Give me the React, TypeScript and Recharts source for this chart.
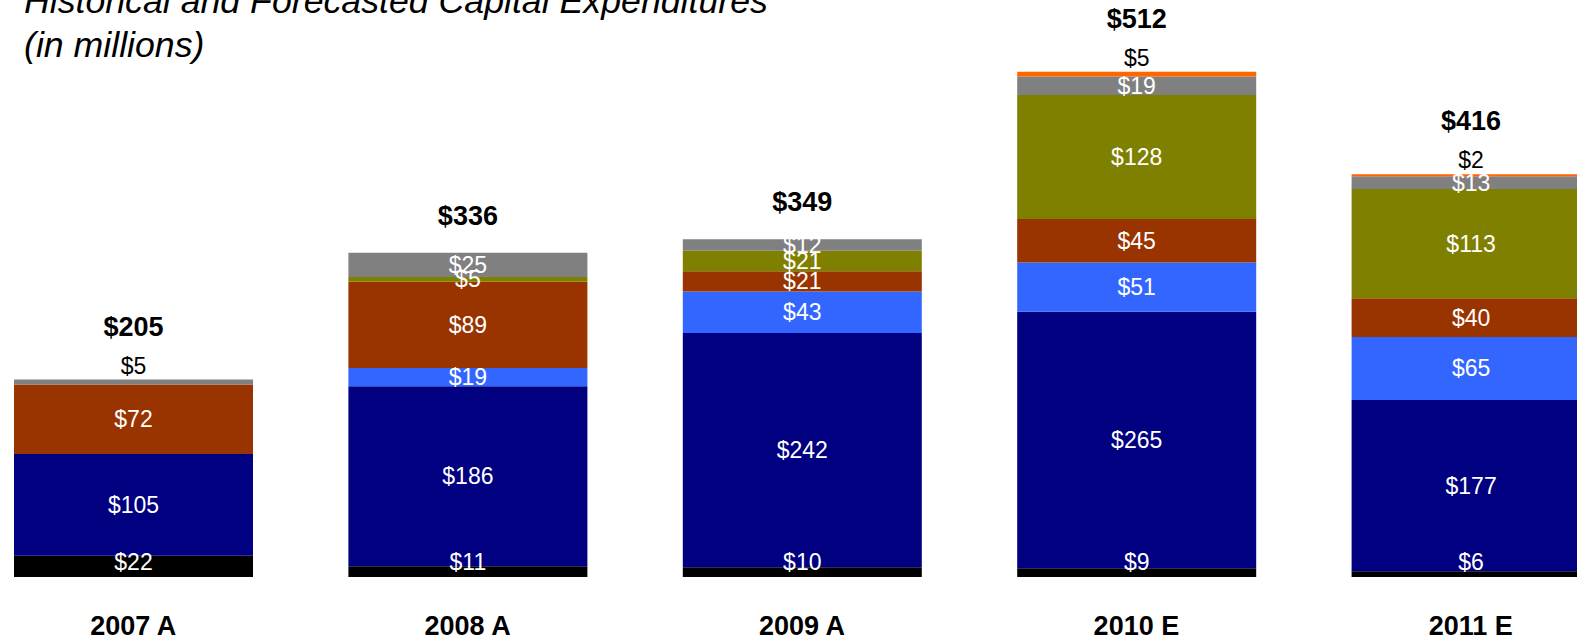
import React from 'react';
import { BarChart, Bar, XAxis, YAxis, LabelList } from 'recharts';

const categories = ['2007 A', '2008 A', '2009 A', '2010 E', '2011 E'];
const totals = [205, 336, 349, 512, 416];

// stacked segments, bottom to top
const blackSeg = [22, 11, 10, 9, 6];
const navySeg = [105, 186, 242, 265, 177];
const blueSeg = [0, 19, 43, 51, 65];
const rustSeg = [72, 89, 21, 45, 40];
const oliveSeg = [0, 5, 21, 128, 113];
const graySeg = [5, 25, 12, 19, 13];
const orangeSeg = [0, 0, 0, 5, 2];

const series = [
  { key: 's1', values: blackSeg, color: '#000000' },
  { key: 's2', values: navySeg, color: '#000080' },
  { key: 's3', values: blueSeg, color: '#3366FF' },
  { key: 's4', values: rustSeg, color: '#993300' },
  { key: 's5', values: oliveSeg, color: '#808000' },
  { key: 's6', values: graySeg, color: '#808080' },
  { key: 's7', values: orangeSeg, color: '#FF6600' },
];

const data = categories.map((cat, i) => {
  const row: Record<string, string | number> = { cat };
  series.forEach((s) => {
    row[s.key] = s.values[i];
  });
  return row;
});

const FONT = '"Liberation Sans", Arial, Helvetica, sans-serif';
const PLOT_BOTTOM = 577;

// index of the highest non-empty segment in each column
const topIndex = (i: number) => {
  let top = 0;
  series.forEach((s, k) => {
    if (s.values[i] > 0) top = k;
  });
  return top;
};

const smallTop = (i: number) => series[topIndex(i)].values[i] < 10;

// labels get the category as value, so empty segments skipped by recharts don't shift indices
const segLabel = (k: number) => (props: any) => {
  const { x, y, width, height, value } = props;
  const i = categories.indexOf(value);
  const v = series[k].values[i];
  if (i < 0 || !v) return null;
  const cx = x + width / 2;
  const small = k === topIndex(i) && v < 10;
  const cy = small ? y - 14 : Math.min(y + height / 2, PLOT_BOTTOM - 15);
  return (
    <g>
      <text x={cx} y={cy} dy={8} textAnchor="middle" fontSize={23} fontFamily={FONT} fill={small ? '#000' : '#fff'}>
        ${v}
      </text>
      {k === topIndex(i) && (
        <text
          x={cx}
          y={y - 38 - (smallTop(i) ? 16 : 0)}
          dy={10}
          textAnchor="middle"
          fontSize={27}
          fontWeight="bold"
          fontFamily={FONT}
          fill="#000"
        >
          ${totals[i]}
        </text>
      )}
    </g>
  );
};

const CatTick = (props: any) => {
  const { x, y, payload } = props;
  return (
    <text x={x} y={y} dy={50} textAnchor="middle" fontSize={27} fontWeight="bold" fontFamily={FONT} fill="#000">
      {payload.value}
    </text>
  );
};

export default function App() {
  return (
    <div style={{ position: 'fixed', left: 0, top: 0, width: 1577, height: 640, overflow: 'hidden', background: '#fff' }}>
      <div style={{ position: 'absolute', left: -34, top: 0 }}>
        <BarChart width={1672} height={640} data={data} margin={{ top: 35, right: 0, bottom: 0, left: 0 }} barSize={239}>
          <XAxis dataKey="cat" height={63} axisLine={false} tickLine={false} tick={<CatTick />} interval={0} />
          <YAxis hide domain={[0, 560]} />
          {series.map((s, k) => (
            <Bar key={s.key} dataKey={s.key} stackId="a" fill={s.color} isAnimationActive={false}>
              <LabelList dataKey={(d: any) => d.cat} content={segLabel(k)} />
            </Bar>
          ))}
        </BarChart>
      </div>
      <div
        style={{
          position: 'absolute',
          left: 24,
          top: -21,
          fontFamily: FONT,
          fontStyle: 'italic',
          fontSize: 35.7,
          lineHeight: '44px',
          color: '#000',
          whiteSpace: 'nowrap',
        }}
      >
        <div>Historical and Forecasted Capital Expenditures</div>
        <div>(in millions)</div>
      </div>
    </div>
  );
}
